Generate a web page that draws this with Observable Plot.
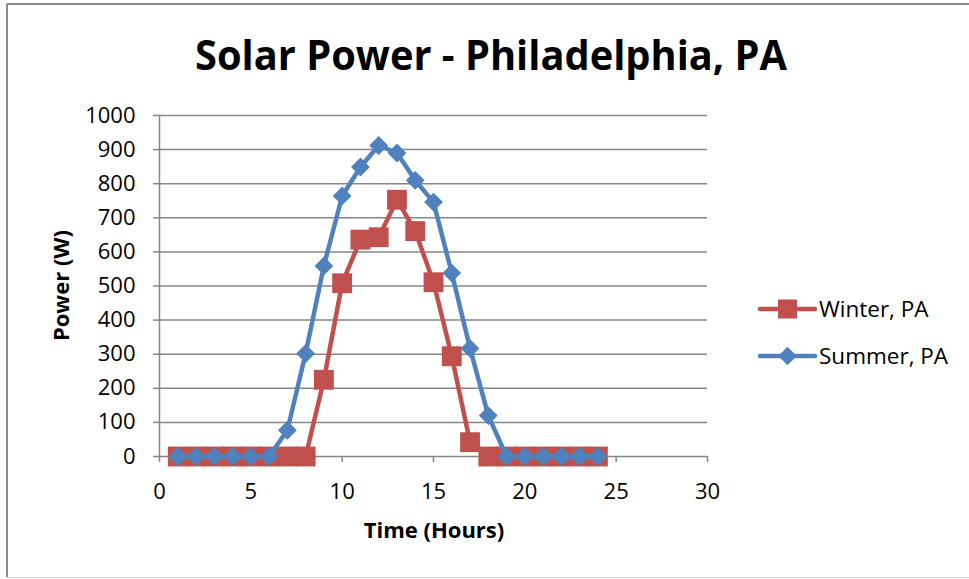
<!DOCTYPE html>
<html>
<head>
<meta charset="utf-8">
<script src="https://cdn.jsdelivr.net/npm/d3@7"></script>
<script src="https://cdn.jsdelivr.net/npm/@observablehq/plot@0.6"></script>
<style>
  html, body { margin: 0; padding: 0; background: #fff; }
  #chart { width: 969px; height: 579px; }
  svg { display: block; }
</style>
</head>
<body>
<div id="chart"></div>
<script>
// Hourly solar output over one day, Philadelphia PA
const hours  = [1, 2, 3, 4, 5, 6, 7, 8, 9, 10, 11, 12, 13, 14, 15, 16, 17, 18, 19, 20, 21, 22, 23, 24];
const winter = [0, 0, 0, 0, 0, 0, 0, 0, 225, 508, 636, 643, 753, 661, 511, 294, 42, 0, 0, 0, 0, 0, 0, 0];
const summer = [0, 0, 0, 0, 0, 0, 77, 302, 559, 764, 849, 912, 890, 810, 746, 538, 317, 120, 0, 0, 0, 0, 0, 0];

const seriesNames = ["Winter, PA", "Summer, PA"];
const seriesColors = ["#C0504D", "#4F81BD"];

const xTicks = [0, 5, 10, 15, 20, 25, 30];
const yTicks = [0, 100, 200, 300, 400, 500, 600, 700, 800, 900, 1000];

const titleText = "Solar Power - Philadelphia, PA";
const xLabel = "Time (Hours)";
const yLabel = "Power (W)";

const winterRows = hours.map((h, i) => ({hour: h, power: winter[i]}));
const summerRows = hours.map((h, i) => ({hour: h, power: summer[i]}));

const W = 969, H = 579;
const grid = "#868686";
const font = "'Open Sans', sans-serif";

const plot = Plot.plot({
  width: W,
  height: H,
  marginLeft: 159,
  marginRight: 262,
  marginTop: 115,
  marginBottom: 123,
  style: {fontFamily: font, background: "#fff", color: "#000"},
  x: {domain: [0, 30]},
  y: {domain: [0, 1000]},
  marks: [
    Plot.ruleY(yTicks, {stroke: grid, strokeWidth: 1.5}),
    Plot.ruleX([0], {stroke: grid, strokeWidth: 1.5}),
    Plot.axisY({ticks: yTicks, tickFormat: d => String(d), tickSize: 6, tickPadding: 18, stroke: grid, strokeWidth: 1.5, fill: "#000", fontSize: 22, label: null}),
    Plot.axisX({ticks: xTicks, tickFormat: d => String(d), tickSize: 6, tickPadding: 21, stroke: grid, strokeWidth: 1.5, fill: "#000", fontSize: 22, label: null}),
    Plot.line(winterRows, {x: "hour", y: "power", stroke: seriesColors[0], strokeWidth: 4.5, strokeLinejoin: "round"}),
    Plot.dot(winterRows, {x: "hour", y: "power", symbol: "square", r: 11.2, fill: seriesColors[0], stroke: null}),
    Plot.line(summerRows, {x: "hour", y: "power", stroke: seriesColors[1], strokeWidth: 4.5, strokeLinejoin: "round"}),
    Plot.dot(summerRows, {x: "hour", y: "power", symbol: "square", rotate: 45, r: 7.5, fill: seriesColors[1], stroke: null})
  ]
});

document.getElementById("chart").appendChild(plot);

const svg = d3.select(plot);

// chart border
svg.append("line").attr("x1", 7).attr("x2", W).attr("y1", 4).attr("y2", 4)
  .attr("stroke", "#8a8a8a").attr("stroke-width", 2);
svg.append("line").attr("x1", 7).attr("x2", 7).attr("y1", 4).attr("y2", 577)
  .attr("stroke", "#8a8a8a").attr("stroke-width", 2);
svg.append("line").attr("x1", 7).attr("x2", W).attr("y1", 577.5).attr("y2", 577.5)
  .attr("stroke", "#d4d4d4").attr("stroke-width", 1);

// title
svg.append("text")
  .attr("x", 491).attr("y", 70)
  .attr("text-anchor", "middle")
  .attr("font-family", font)
  .attr("font-weight", 700)
  .attr("font-size", 42)
  .attr("textLength", 592)
  .attr("lengthAdjust", "spacingAndGlyphs")
  .attr("fill", "#000")
  .text(titleText);

// axis titles
svg.append("text")
  .attr("x", 434).attr("y", 538)
  .attr("text-anchor", "middle")
  .attr("font-family", font)
  .attr("font-weight", 700)
  .attr("font-size", 22)
  .attr("fill", "#000")
  .text(xLabel);

svg.append("text")
  .attr("transform", "translate(69,285.5) rotate(-90)")
  .attr("text-anchor", "middle")
  .attr("font-family", font)
  .attr("font-weight", 700)
  .attr("font-size", 22)
  .attr("fill", "#000")
  .text(yLabel);

// legend
const legendY = [309, 356];
const legend = svg.append("g");
seriesNames.forEach((name, i) => {
  const g = legend.append("g").attr("transform", `translate(0,${legendY[i]})`);
  g.append("line").attr("x1", 760).attr("x2", 815).attr("y1", 0).attr("y2", 0)
    .attr("stroke", seriesColors[i]).attr("stroke-width", 4.5).attr("stroke-linecap", "round");
  if (i === 0) {
    g.append("rect").attr("x", 787.5 - 9.5).attr("y", -9.5).attr("width", 19).attr("height", 19)
      .attr("fill", seriesColors[i]);
  } else {
    g.append("rect").attr("x", -6.6).attr("y", -6.6).attr("width", 13.2).attr("height", 13.2)
      .attr("transform", "translate(787.5,0) rotate(45)")
      .attr("fill", seriesColors[i]);
  }
  g.append("text").attr("x", 819).attr("y", 0).attr("dy", "0.35em")
    .attr("text-anchor", "start")
    .attr("font-family", font)
    .attr("font-size", 22.5)
    .attr("fill", "#000")
    .text(name);
});
</script>
</body>
</html>
